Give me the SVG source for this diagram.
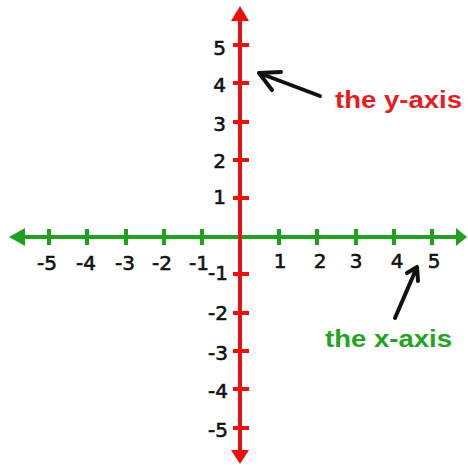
<svg xmlns="http://www.w3.org/2000/svg" width="468" height="465" viewBox="0 0 468 465">
<style>
.gx{stroke:#1fa01f;stroke-width:4;fill:none}
.ry{stroke:#ea1111;stroke-width:4;fill:none}
.num{font-family:"DejaVu Sans",sans-serif;font-size:20px;fill:#111;stroke:#111;stroke-width:0.6}
.lab{font-family:"Liberation Sans",Arial,sans-serif;font-weight:bold;font-size:23px}
.ptr{stroke:#111;stroke-width:4;fill:none;stroke-linecap:round;stroke-linejoin:round}
</style>
<rect width="468" height="465" fill="#fff"/>
<g id="connectors">
<g id="x-axis">
<line class="gx" x1="22" y1="237" x2="458" y2="237"/>
<polygon points="9,237 25,228 25,246" fill="#1fa01f"/>
<polygon points="467,237 456,228 456,246" fill="#1fa01f"/>
<path class="gx" d="M49,229V245M87,229V245M126,229V245M164,229V245M202,229V245M279,229V245M317,229V245M356,229V245M394,229V245M432,229V245"/>
</g>
<g id="y-axis">
<line class="ry" x1="240" y1="18" x2="240" y2="453"/>
<polygon points="240,6 231,21 249,21" fill="#ea1111"/>
<polygon points="240,464 231,450 249,450" fill="#ea1111"/>
<path class="ry" d="M233,45H249M233,83H249M233,122H249M233,160H249M233,198H249M233,274H249M233,313H249M233,351H249M233,389H249M233,428H249"/>
</g>
<g id="pointer-y">
<path class="ptr" d="M320,96L259,73M281,72L259,73L272,90"/>
</g>
<g id="pointer-x">
<path class="ptr" d="M395,318L417,267M407,273L417,267L418,281"/>
</g>
</g>
<g id="x-labels" class="num" text-anchor="middle">
<text x="47" y="270">-5</text>
<text x="86" y="270">-4</text>
<text x="125" y="270">-3</text>
<text x="162" y="270">-2</text>
<text x="199" y="270">-1</text>
<text x="280" y="268">1</text>
<text x="320" y="268">2</text>
<text x="356" y="268">3</text>
<text x="397" y="268">4</text>
<text x="434" y="268">5</text>
</g>
<g id="y-labels" class="num" text-anchor="end">
<text x="226" y="55">5</text>
<text x="226" y="92">4</text>
<text x="226" y="131">3</text>
<text x="226" y="168">2</text>
<text x="226" y="204">1</text>
<text x="228" y="280">-1</text>
<text x="228" y="320">-2</text>
<text x="228" y="360">-3</text>
<text x="228" y="398">-4</text>
<text x="228" y="437">-5</text>
</g>
<g id="label-y">
<text class="lab" x="335" y="108" fill="#e81c1c" textLength="127" lengthAdjust="spacingAndGlyphs">the y-axis</text>
</g>
<g id="label-x">
<text class="lab" x="325" y="347" fill="#22a322" textLength="127" lengthAdjust="spacingAndGlyphs">the x-axis</text>
</g>
</svg>
